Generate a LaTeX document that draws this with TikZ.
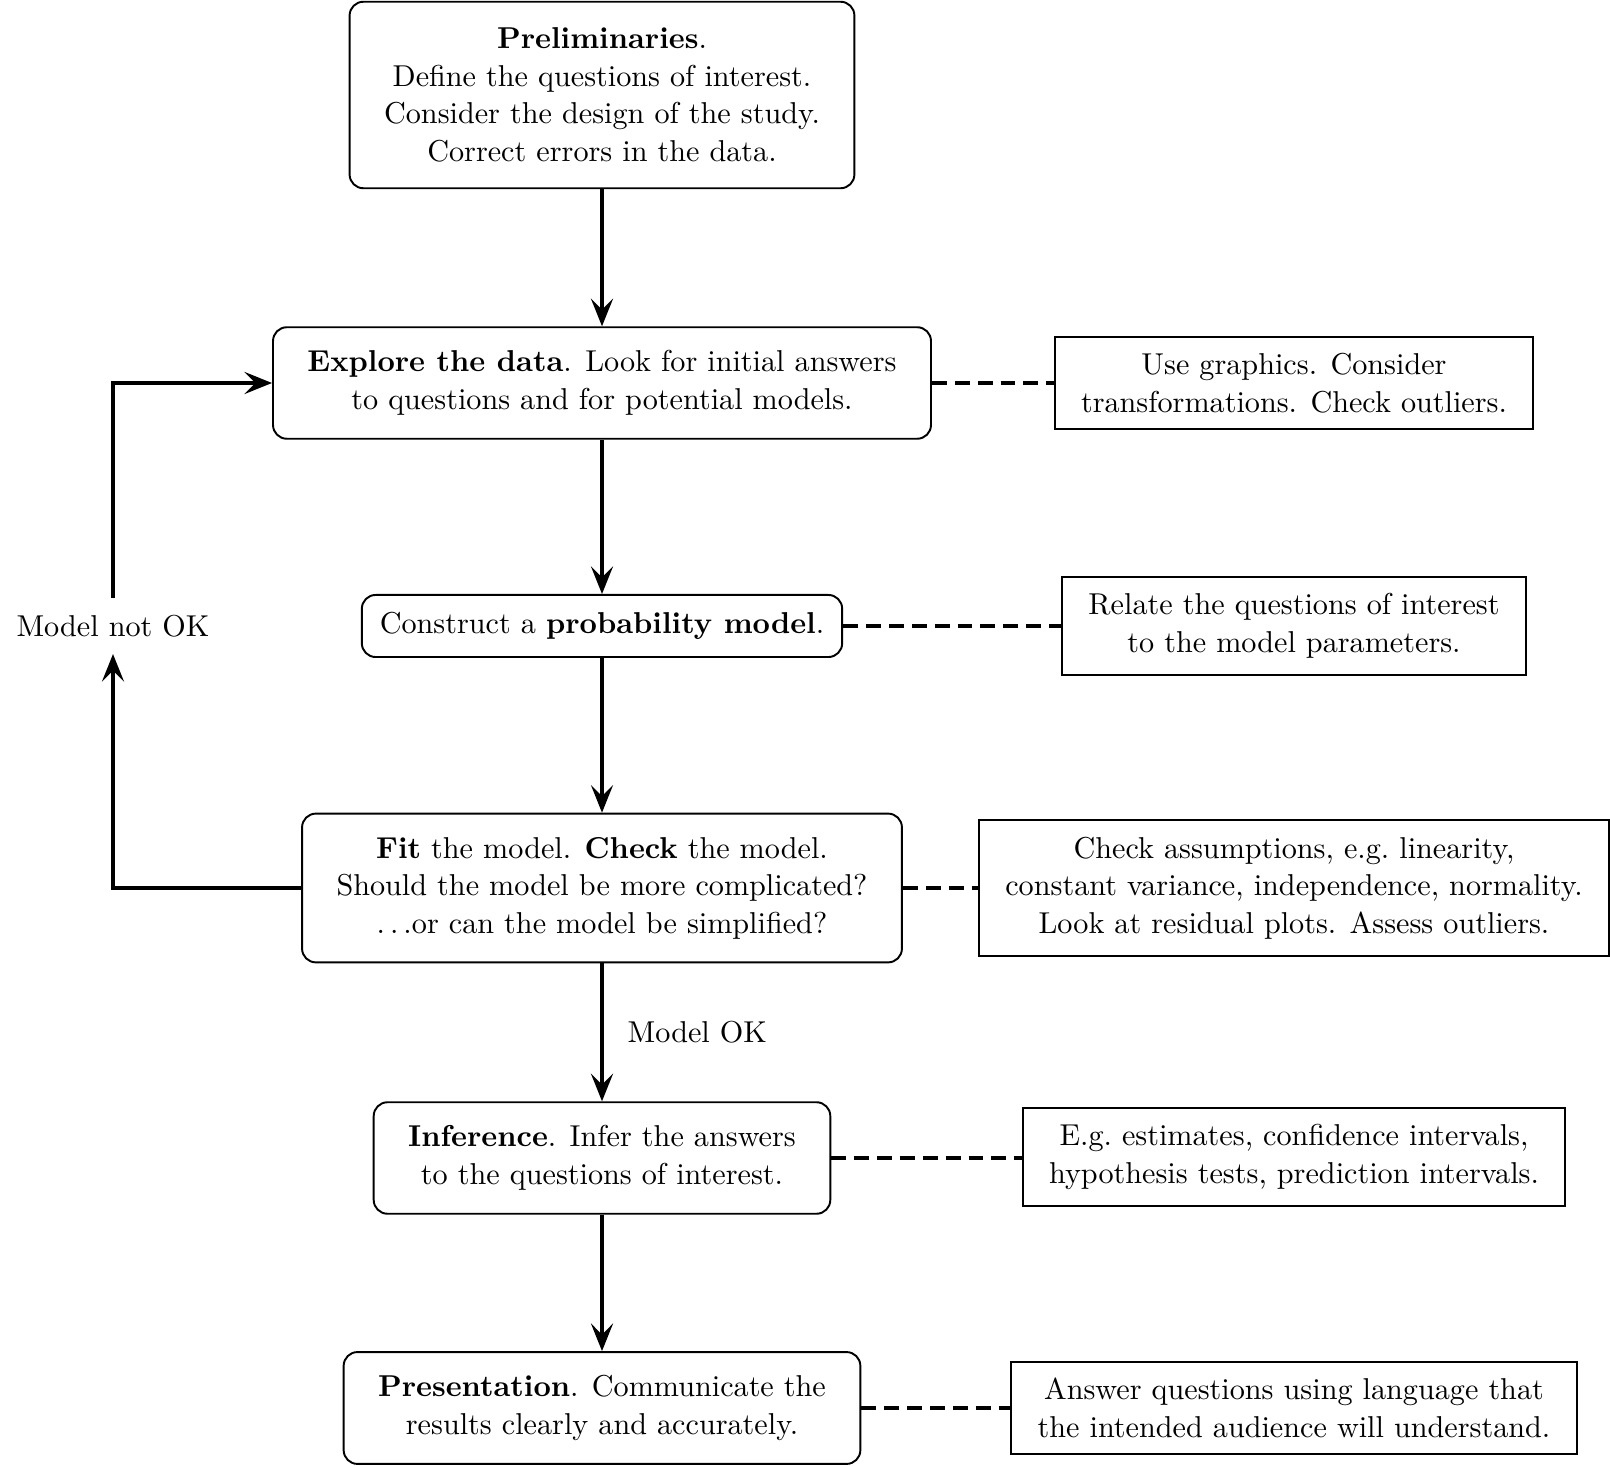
\documentclass[11pt,tikz,border=0pt]{standalone}
\usepackage{amssymb}
\usepackage{amsmath}
\usetikzlibrary{arrows.meta}

\begin{document}
\begin{tikzpicture}[x=0.3627pt,y=-0.3627pt,
			stage/.style={draw,line width=0.7pt,rounded corners=5pt,align=center,inner xsep=12.5pt,inner ysep=8.5pt},
			note/.style={draw,line width=0.7pt,align=center,inner xsep=9.5pt,inner ysep=6pt},
			flow/.style={-{Stealth[length=10pt,width=8pt,inset=4pt]},line width=1.3pt},
			link/.style={line width=1.15pt,dash pattern=on 5.4pt off 2.9pt}]
			\useasboundingbox (0,0) rectangle (1610,1466);
			% main steps
			\node[stage,inner ysep=9.5pt] (prelim) at (602,95) {\textbf{Preliminaries}.\\ Define the questions of interest.\\ Consider the design of the study.\\ Correct errors in the data.};
			\node[stage] (explore) at (602,383) {\textbf{Explore the data}. Look for initial answers\\ to questions and for potential models.};
			\node[stage,inner xsep=6.5pt,inner ysep=6.3pt] (prob) at (602,626) {Construct a \textbf{probability model}.};
			\node[stage] (fit) at (602,888) {\textbf{Fit} the model. \textbf{Check} the model.\\ Should the model be more complicated?\\ $\ldots$or can the model be simplified?};
			\node[stage] (infer) at (602,1158) {\textbf{Inference}. Infer the answers\\ to the questions of interest.};
			\node[stage] (present) at (602,1408) {\textbf{Presentation}. Communicate the\\ results clearly and accurately.};
			% side notes
			\node[note] (graphics) at (1294,383) {Use graphics. Consider\\ transformations. Check outliers.};
			\node[note] (relate) at (1294,626) {Relate the questions of interest\\ to the model parameters.};
			\node[note] (assume) at (1294,888) {Check assumptions, e.g.\ linearity,\\ constant variance, independence, normality.\\ Look at residual plots. Assess outliers.};
			\node[note] (estim) at (1294,1157) {E.g.\ estimates, confidence intervals,\\ hypothesis tests, prediction intervals.};
			\node[note] (answer) at (1294,1408) {Answer questions using language that\\ the intended audience will understand.};
			\node[inner ysep=6pt] (notok) at (113,626) {Model not OK};
			% arrows
			\draw[flow] (prelim) -- (explore);
			\draw[flow] (explore) -- (prob);
			\draw[flow] (prob) -- (fit);
			\draw[flow] (fit) -- node[right=5pt] {Model OK} (infer);
			\draw[flow] (infer) -- (present);
			\draw[flow] (fit.west) -| (notok.south);
			\draw[flow] (notok.north) |- (explore.west);
			% dashed links
			\draw[link] (explore) -- (graphics);
			\draw[link] (prob) -- (relate);
			\draw[link] (fit) -- (assume);
			\draw[link] (infer.east) -- (infer.east -| estim.west);
			\draw[link] (present) -- (answer);
\end{tikzpicture}
\end{document}
